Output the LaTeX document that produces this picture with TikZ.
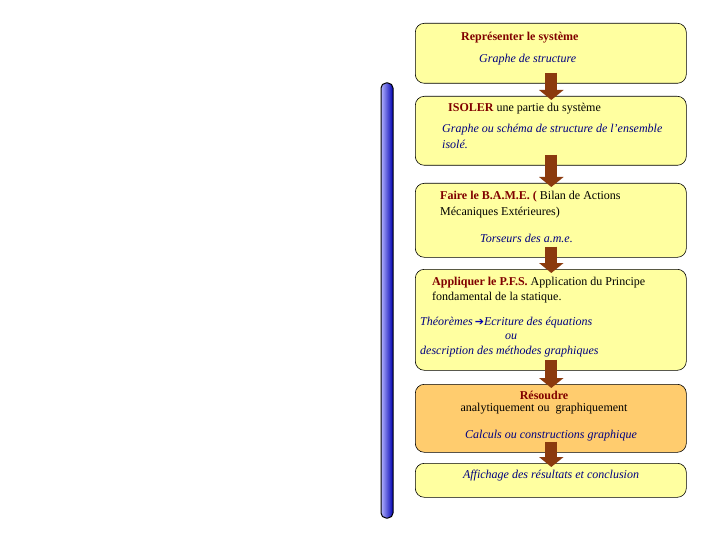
\documentclass[tikz,border=0pt]{standalone}
\usepackage{fontspec}
\setmainfont{Liberation Serif}
\usetikzlibrary{arrows.meta,calc}
\definecolor{boxy}{RGB}{255,255,160}
\definecolor{boxo}{RGB}{255,204,110}
\definecolor{arr}{RGB}{139,58,14}
\definecolor{dred}{RGB}{128,0,0}
\definecolor{nv}{RGB}{0,0,128}
\begin{document}
\begin{tikzpicture}[x=1pt,y=-1pt,
  box/.style={draw=black,line width=0.6pt,rounded corners=9pt,fill=boxy},
  t/.style={anchor=west,inner sep=0,font=\fontsize{12}{14}\selectfont},
  tc/.style={anchor=center,inner sep=0,font=\fontsize{12}{14}\selectfont},
  it/.style={text=nv,font=\fontsize{12}{14}\selectfont\itshape},
  flow/.style={line width=12pt,arr,-{Triangle[width=24pt,length=10pt]}}]
\useasboundingbox (0,0) rectangle (720,540);
\path[left color=blue!30!white,right color=blue!70!black,draw=black,line width=1pt,rounded corners=5pt] (381,83) rectangle (393,518);
\node[box,minimum width=271,minimum height=60,anchor=north west] (b1) at (415,23) {};
\node[box,minimum width=271,minimum height=69,anchor=north west] (b2) at (415,96) {};
\node[box,minimum width=271,minimum height=74,anchor=north west] (b3) at (415,183) {};
\node[box,minimum width=271,minimum height=101,anchor=north west] (b4) at (415,269) {};
\node[box,fill=boxo,minimum width=271,minimum height=68,anchor=north west] (b5) at (415,384) {};
\node[box,minimum width=271,minimum height=34,anchor=north west] (b6) at (415,463) {};
\foreach \a/\b in {b1/b2,b2/b3,b3/b4,b4/b5,b5/b6}
  \draw[flow] ($(\a.south)+(0.5,-11)$) -- ($(\b.north)+(0.5,4)$);
\node[t,text=dred,font=\fontsize{12}{14}\selectfont\bfseries] (t1) at (461,38) {Représenter le système};
\node[t,it] (t2) at (479,60) {Graphe de structure};
\node[t] (t3) at (448,109) {\textcolor{dred}{\bfseries ISOLER} une partie du système};
\node[t,it] (t4) at (442,130) {Graphe ou schéma de structure de l'ensemble};
\node[t,it] (t5) at (442,144) {isolé.};
\node[t] (t6) at (440,197) {\textcolor{dred}{\bfseries Faire le B.A.M.E. (} Bilan de Actions};
\node[t] (t7) at (440,213) {Mécaniques Extérieures)};
\node[t,it] (t8) at (480,238) {Torseurs des a.m.e.};
\node[t] (t9) at (432,283) {\textcolor{dred}{\bfseries Appliquer le P.F.S.} Application du Principe};
\node[t] (t10) at (432,298) {fondamental de la statique.};
\node[t,it] (t11) at (420,323) {Théorèmes\,\textcolor{blue!70!black}{\normalfont\fontspec{DejaVu Sans}\fontsize{11}{12}\selectfont ➔}Ecriture des équations};
\node[tc,it] (t12) at (511,337) {ou};
\node[t,it] (t13) at (420,352) {description des méthodes graphiques};
\node[tc,text=dred,font=\fontsize{12}{14}\selectfont\bfseries] (t14) at (544,395) {Résoudre};
\node[tc] (t15) at (544,409) {analytiquement ou\ \ graphiquement};
\node[tc,it] (t16) at (551,436) {Calculs ou constructions graphique};
\node[tc,it] (t17) at (551,476) {Affichage des résultats et conclusion};
\end{tikzpicture}
\end{document}
